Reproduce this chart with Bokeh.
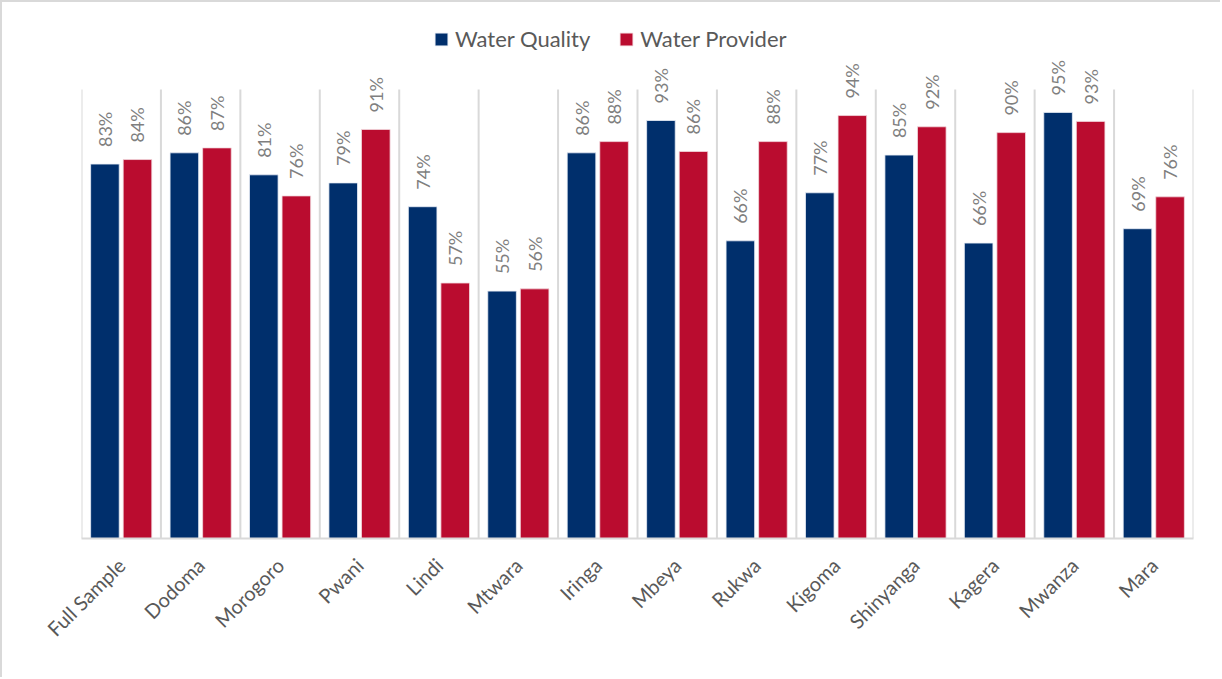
import math
from bokeh.plotting import figure
from bokeh.models import ColumnDataSource, FixedTicker, Legend, LegendItem
from bokeh.core.properties import value
from bokeh.embed import file_html
from bokeh.resources import INLINE

regions = ["Full Sample", "Dodoma", "Morogoro", "Pwani", "Lindi", "Mtwara", "Iringa",
           "Mbeya", "Rukwa", "Kigoma", "Shinyanga", "Kagera", "Mwanza", "Mara"]
water_quality = [83.4, 85.9, 81.0, 79.2, 73.9, 55.1, 85.9, 93.1, 66.3, 77.0, 85.4, 65.8, 94.9, 69.0]
water_provider = [84.4, 87.0, 76.3, 91.1, 56.9, 55.6, 88.4, 86.2, 88.4, 94.2, 91.7, 90.4, 92.9, 76.1]
series_names = ["Water Quality", "Water Provider"]

BLUE = "#002F6C"
RED = "#BA0C2F"
FONT = "Lato"

n = len(regions)
centers = [i + 0.5 for i in range(n)]
off = 0.205
bw = 0.36

src = ColumnDataSource(dict(
    xq=[c - off for c in centers],
    xp=[c + off for c in centers],
    q=water_quality,
    pv=water_provider,
    lq=[f"{round(v)}%" for v in water_quality],
    lp=[f"{round(v)}%" for v in water_provider],
))

p = figure(width=1220, height=677, output_backend="svg", toolbar_location=None,
           x_range=(0, n), y_range=(0, 117.6),
           min_border_left=79, min_border_right=29, min_border_top=8, min_border_bottom=141)
p.styles = {"border-top": "2px solid #d9d9d9", "border-left": "2px solid #d9d9d9"}
p.outline_line_color = None
p.xgrid.visible = False
p.ygrid.visible = False
p.yaxis.visible = False

# category separators
bounds = list(range(n + 1))
p.segment(x0=bounds, y0=[0] * len(bounds), x1=bounds, y1=[100] * len(bounds),
          line_color="#d9d9d9", line_width=2)

rq = p.vbar(x="xq", top="q", width=bw, source=src, fill_color=BLUE, line_color="#e8eef6", line_width=0.8)
rp = p.vbar(x="xp", top="pv", width=bw, source=src, fill_color=RED, line_color="#f3d9de", line_width=0.8)

for xcol, ycol, lcol in (("xq", "q", "lq"), ("xp", "pv", "lp")):
    p.text(x=xcol, y=ycol, text=lcol, source=src, angle=math.pi / 2,
           text_align="left", text_baseline="middle", y_offset=-17,
           text_font=value(FONT), text_font_size="18px", text_color="#7f7f7f")

ax = p.xaxis[0]
ax.ticker = FixedTicker(ticks=centers)
ax.major_label_overrides = {c: r for c, r in zip(centers, regions)}
ax.major_label_orientation = math.pi / 4
ax.major_label_text_font = FONT
ax.major_label_text_font_size = "20px"
ax.major_label_text_color = "#595959"
ax.major_label_standoff = 17
ax.axis_line_color = "#d9d9d9"
ax.axis_line_width = 2
ax.major_tick_line_color = None
ax.minor_tick_line_color = None

legend = Legend(items=[LegendItem(label=series_names[0], renderers=[rq]),
                       LegendItem(label=series_names[1], renderers=[rp])],
                orientation="horizontal", location=(352, 486),
                glyph_width=16, glyph_height=16, label_standoff=6, spacing=28,
                padding=0, margin=0, border_line_color=None, background_fill_alpha=0,
                label_text_font=FONT, label_text_font_size="22px", label_text_color="#595959",
                label_height=20)
p.add_layout(legend, "center")

open("out.html", "w").write(file_html(p, INLINE))
